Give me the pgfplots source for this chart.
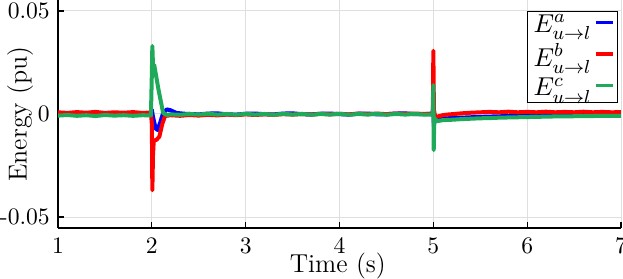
\documentclass[border=0pt]{standalone}
\usepackage{pgfplots}
\pgfplotsset{compat=1.18}
\definecolor{cA}{RGB}{0,0,255}
\definecolor{cB}{RGB}{255,0,0}
\definecolor{cC}{RGB}{30,170,90}
\begin{document}
\begin{tikzpicture}
\begin{axis}[
  name=ax,
  scale only axis,
  width=238.6pt, height=96.6pt,
  xmin=1, xmax=7, ymin=-0.0553, ymax=0.0553,
  axis x line*=bottom, axis y line*=left,
  axis line style={line width=0.6pt, -},
  xtick={1,2,3,4,5,6,7},
  ytick={-0.05,0,0.05},
  yticklabels={-0.05,0,0.05},
  scaled y ticks=false,
  tick align=inside,
  major tick length=2.5pt,
  tick style={black, line width=0.5pt},
  grid=major,
  major grid style={gray!25, line width=0.4pt},
  tick label style={font=\fontsize{10}{12}\selectfont},
  xticklabel style={yshift=-1pt},
  xlabel={Time (s)},
  ylabel={Energy (pu)},
  label style={font=\fontsize{11}{13}\selectfont},
  xlabel style={at={(axis description cs:0.497,-0.167)}, anchor=center},
  ylabel style={at={(axis description cs:-0.0675,0.5)}, anchor=center},
  legend style={at={(axis description cs:0.995,0.952)}, anchor=north east,
    draw=black, line width=0.5pt, fill=white, font=\fontsize{11}{13}\selectfont,
    inner xsep=1.5pt, inner ysep=1.2pt, row sep=3.5pt,
    nodes={inner xsep=1pt, inner ysep=0pt}},
  legend cell align=left,
  legend plot pos=right,
  legend image code/.code={\draw[#1, line width=1.3pt] (0pt,1.2pt) -- (7.2pt,1.2pt);},
  every axis plot/.append style={line width=1.7pt, line join=round},
]
\addplot[cA] coordinates {
(1,0.0002)(1.1,-0.0002)(1.2,0.0003)(1.3,-0.0001)(1.4,0.0004)(1.5,-0.0002)(1.6,0.0002)(1.7,-0.0001)(1.8,0.0003)(1.9,-0.0001)(1.99,0.0002)
(2.0,0.0020)(2.01,-0.0010)(2.04,-0.0070)(2.06,-0.0078)(2.09,-0.0040)(2.12,0.0005)(2.16,0.0022)(2.2,0.0018)(2.26,0.0005)(2.35,0.0001)
(2.5,-0.0002)(2.6,0.0002)(2.7,0.0003)(2.8,-0.0002)(2.9,-0.0003)(3.0,0.0001)(3.1,0.0002)(3.2,-0.0001)(3.3,-0.0002)(3.4,0.0002)(3.5,0.0003)
(3.6,-0.0001)(3.7,-0.0002)(3.8,0.0001)(3.9,0.0002)(4.0,-0.0001)(4.1,-0.0003)(4.2,0.0001)(4.3,0.0002)(4.4,-0.0002)(4.5,-0.0001)(4.6,0.0002)
(4.7,0.0003)(4.8,-0.0001)(4.9,-0.0001)(4.995,0.0002)
(5.0,0.0080)(5.005,-0.0060)(5.02,-0.0015)(5.05,-0.0025)(5.1,-0.0022)(5.2,-0.0020)(5.3,-0.0018)(5.4,-0.0016)(5.5,-0.0014)(5.65,-0.0012)
(5.8,-0.0010)(5.95,-0.0008)(6.1,-0.0006)(6.25,-0.0004)(6.4,-0.0003)(6.55,-0.0001)(6.7,0.0000)(6.85,0.0001)(7,0.0001)
};
\addlegendentry{$E^a_{u\to l}$}
\addplot[cB] coordinates {
(1,0.0008)(1.1,0.0005)(1.2,0.0009)(1.3,0.0006)(1.4,0.0010)(1.5,0.0005)(1.6,0.0008)(1.7,0.0006)(1.8,0.0009)(1.9,0.0005)(1.99,0.0007)
(2.0,-0.0050)(2.005,-0.0370)(2.012,-0.0200)(2.02,-0.0130)(2.05,-0.0125)(2.08,-0.0110)(2.11,-0.0050)(2.14,-0.0010)(2.2,-0.0006)
(2.3,-0.0009)(2.4,-0.0005)(2.5,-0.0008)(2.6,-0.0004)(2.7,-0.0007)(2.8,-0.0003)(2.9,-0.0006)(3.0,-0.0002)(3.1,-0.0005)(3.2,-0.0002)
(3.3,-0.0004)(3.4,-0.0001)(3.5,-0.0003)(3.6,0.0000)(3.7,-0.0003)(3.8,0.0001)(3.9,-0.0002)(4.0,0.0001)(4.1,-0.0002)(4.2,0.0002)
(4.3,-0.0001)(4.4,0.0002)(4.5,-0.0001)(4.6,0.0002)(4.7,0.0000)(4.8,0.0002)(4.9,0.0000)(4.995,0.0001)
(5.0,0.0307)(5.006,0.0020)(5.02,-0.0015)(5.05,-0.0012)(5.1,-0.0006)(5.15,-0.0003)(5.3,0.0003)(5.4,0.0006)(5.5,0.0008)(5.6,0.0010)
(5.7,0.0008)(5.8,0.0011)(5.9,0.0008)(6.0,0.0010)(6.1,0.0008)(6.2,0.0011)(6.3,0.0008)(6.4,0.0010)(6.5,0.0008)(6.6,0.0011)(6.7,0.0008)
(6.8,0.0010)(6.9,0.0008)(7,0.0009)
};
\addlegendentry{$E^b_{u\to l}$}
\addplot[cC] coordinates {
(1,-0.0008)(1.1,-0.0005)(1.2,-0.0009)(1.3,-0.0006)(1.4,-0.0010)(1.5,-0.0005)(1.6,-0.0008)(1.7,-0.0006)(1.8,-0.0009)(1.9,-0.0006)(1.99,-0.0007)
(2.0,0.0200)(2.005,0.0330)(2.015,0.0200)(2.025,0.0238)(2.07,0.0120)(2.12,0.0005)(2.16,-0.0005)(2.2,-0.0002)(2.3,-0.0004)(2.4,0.0000)
(2.5,-0.0003)(2.6,0.0001)(2.7,-0.0003)(2.8,0.0000)(2.9,-0.0004)(3.0,0.0001)(3.1,-0.0003)(3.2,0.0000)(3.3,-0.0004)(3.4,0.0001)(3.5,-0.0003)
(3.6,0.0000)(3.7,-0.0004)(3.8,0.0000)(3.9,-0.0003)(4.0,0.0001)(4.1,-0.0004)(4.2,0.0000)(4.3,-0.0003)(4.4,0.0001)(4.5,-0.0004)(4.6,0.0000)
(4.7,-0.0003)(4.8,0.0000)(4.9,-0.0003)(4.995,-0.0004)
(5.0,0.0140)(5.004,-0.0175)(5.01,-0.0020)(5.04,-0.0035)(5.1,-0.0030)(5.2,-0.0028)(5.3,-0.0025)(5.4,-0.0023)(5.5,-0.0021)(5.6,-0.0020)
(5.7,-0.0018)(5.8,-0.0017)(5.9,-0.0016)(6.0,-0.0015)(6.1,-0.0014)(6.2,-0.0013)(6.3,-0.0012)(6.4,-0.0012)(6.5,-0.0011)(6.6,-0.0010)
(6.7,-0.0010)(6.8,-0.0009)(6.9,-0.0009)(7,-0.0009)
};
\addlegendentry{$E^c_{u\to l}$}
\end{axis}
\pgfresetboundingbox
\path ([xshift=-24.6pt,yshift=-21.6pt]ax.south west) rectangle ([xshift=0.85pt]ax.north east);
\end{tikzpicture}
\end{document}
